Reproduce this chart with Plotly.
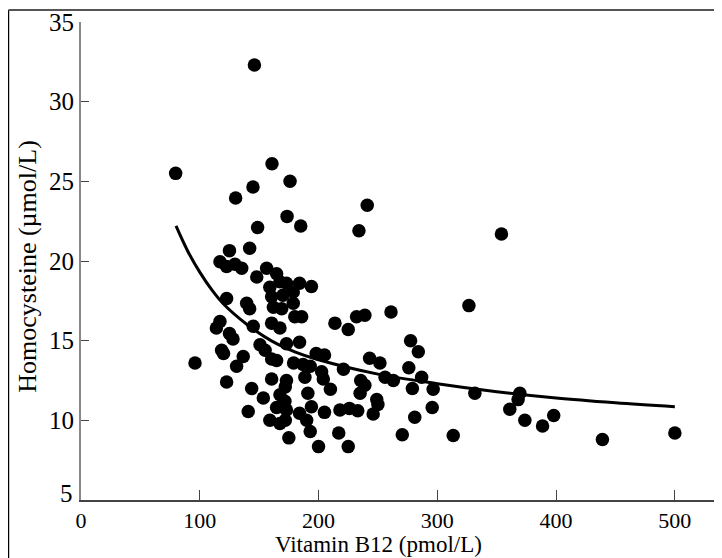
import plotly.graph_objects as go

# Scatter data: Vitamin B12 (pmol/L) vs Homocysteine (umol/L)
b12 = [146, 79.7, 160.8, 144.8, 130.2, 176, 241, 173.5, 185, 148.7, 234, 354,
       125, 142, 117, 122.6, 129.6, 135.3, 156.3, 164.7, 148,
       159, 167.5, 173, 184, 194, 160.5, 170, 178.7, 122.6, 139.5, 142, 162, 169, 178.7, 185.8, 180,
       326.6, 261, 239, 232, 213.8, 225,
       117, 114, 125, 128, 145, 160.5, 167.5,
       150.7, 155, 173, 184, 118.4, 120, 136.6, 131, 160.5, 164.7, 96,
       187, 193, 198, 205,
       277.5, 284, 243, 251.7, 276, 286.8, 221,
       256, 263, 235.5, 202.6, 279, 296.5, 295.7, 331.6, 369.5, 368, 361, 373.7, 388.6, 398,
       439, 500, 313.4, 270.5, 281, 235, 239, 249, 250, 246, 218, 226, 233, 210, 205,
       217, 225, 200, 175, 191, 194, 190, 184, 193, 172, 173, 172, 188.5, 204, 179,
       122.6, 143.7, 160.5, 173, 153.5, 167.5, 171.7, 164.7, 140.8, 159, 167.5]
hcy = [32.3, 25.5, 26.1, 24.65, 23.95, 25.0, 23.5, 22.8, 22.2, 22.1, 21.9, 21.7,
       20.65, 20.8, 19.95, 19.65, 19.8, 19.55, 19.55, 19.2, 19.0,
       18.35, 18.7, 18.6, 18.6, 18.4, 17.75, 17.85, 18.05, 17.65, 17.35, 17.0, 17.1, 17.0, 17.35, 16.5, 16.5,
       17.2, 16.8, 16.6, 16.5, 16.1, 15.7,
       16.2, 15.8, 15.45, 15.1, 15.9, 16.1, 15.8,
       14.75, 14.4, 14.8, 14.9, 14.4, 14.2, 14.0, 13.4, 13.85, 13.75, 13.6,
       13.5, 13.4, 14.2, 14.1,
       15.0, 14.3, 13.9, 13.6, 13.3, 12.7, 13.2,
       12.7, 12.5, 12.5, 13.05, 12.0, 11.95, 10.8, 11.7, 11.7, 11.3, 10.7, 10.0, 9.65, 10.3,
       8.8, 9.2, 9.05, 9.1, 10.2, 11.7, 12.2, 11.3, 11.0, 10.4, 10.65, 10.75, 10.6, 11.95, 10.5,
       9.2, 8.35, 8.35, 8.9, 11.7, 10.85, 10.0, 10.45, 9.3, 12.1, 10.65, 10.0, 12.7, 12.6, 13.6,
       12.4, 12.0, 12.6, 12.5, 11.4, 11.6, 11.2, 10.8, 10.55, 10.0, 9.8]

# Fitted curve
fit_x = [80, 90, 100, 110, 120, 140, 160, 180, 200, 250, 300, 350, 400, 450, 500]
fit_y = [22.2, 20.6, 19.3, 18.2, 17.3, 16.0, 15.0, 14.3, 13.8, 12.9, 12.3, 11.8, 11.4, 11.1, 10.85]

x_ticks = [0, 100, 200, 300, 400, 500]
y_ticks = [10, 15, 20, 25, 30, 35]

FONT = "Liberation Serif, Times New Roman, serif"

fig = go.Figure()
fig.add_trace(go.Scatter(x=b12, y=hcy, mode="markers",
                         marker=dict(size=13.5, color="black", line=dict(width=0)),
                         showlegend=False, hoverinfo="x+y"))
fig.add_trace(go.Scatter(x=fit_x, y=fit_y, mode="lines",
                         line=dict(color="black", width=3, shape="spline"),
                         showlegend=False, hoverinfo="skip"))

fig.update_layout(
    width=714, height=550,
    margin=dict(l=73, r=2, t=14, b=58),
    paper_bgcolor="white", plot_bgcolor="white",
    font=dict(family=FONT, size=25, color="black"),
    xaxis=dict(range=[0, 538], tickvals=x_ticks, ticks="inside", ticklen=10,
               tickcolor="#444", tickwidth=1, showline=True, linecolor="#444", linewidth=1.5,
               showgrid=False, zeroline=False, ticklabelstandoff=0,
               tickfont=dict(family=FONT, size=22)),
    yaxis=dict(range=[5, 35], tickvals=y_ticks, ticks="inside", ticklen=8,
               tickcolor="#444", tickwidth=1, showline=True, linecolor="#888", linewidth=2,
               showgrid=False, zeroline=False, ticklabelstandoff=0,
               tickfont=dict(family=FONT, size=25)),
    annotations=[
        dict(text="Vitamin B12 (pmol/L)", xref="paper", yref="paper",
             x=0.465, y=-0.093, xanchor="center", yanchor="middle", showarrow=False,
             font=dict(family=FONT, size=23)),
        dict(text="Homocysteine (\u00b5mol/L)", xref="paper", yref="paper",
             x=-0.083, y=0.49, xanchor="center", yanchor="middle", textangle=-90,
             showarrow=False, font=dict(family=FONT, size=26)),
        dict(text="5", xref="paper", yref="y", x=-0.009, y=5.4, xanchor="right",
             yanchor="middle", showarrow=False, font=dict(family=FONT, size=25)),
    ],
    shapes=[
        dict(type="line", xref="paper", yref="paper", x0=-0.1135, x1=-0.1135, y0=1.025, y1=-0.13,
             line=dict(color="black", width=1.5)),
        dict(type="line", xref="paper", yref="paper", x0=-0.1135, x1=1.01, y0=1.025, y1=1.025,
             line=dict(color="#555", width=2)),
        dict(type="line", xref="paper", yref="paper", x0=0.9975, x1=0.9975, y0=1.025, y1=-0.13,
             line=dict(color="black", width=1)),
    ],
)

fig.write_html("out.html")
